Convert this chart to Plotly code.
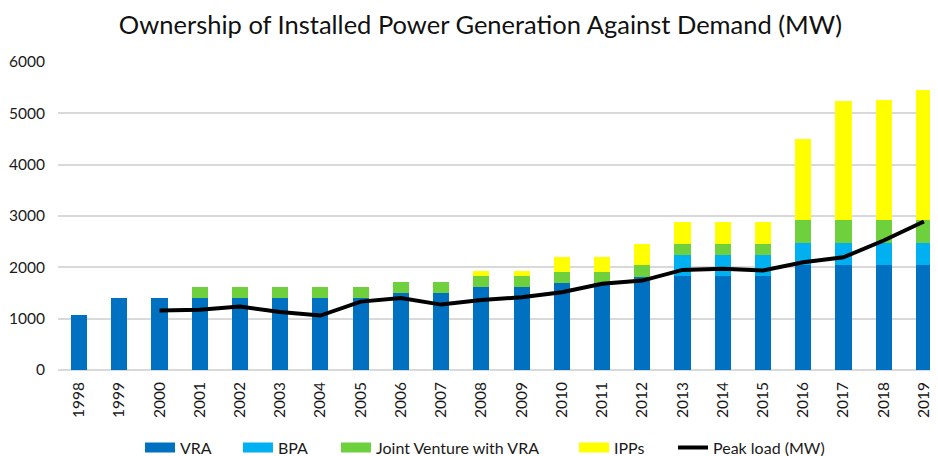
import plotly.graph_objects as go

years = [str(y) for y in range(1998, 2020)]
vra = [1072, 1400, 1400, 1400, 1400, 1400, 1400, 1400, 1500, 1500, 1610, 1610,
       1700, 1700, 1820, 1830, 1830, 1830, 2050, 2050, 2050, 2050]
bpa = [0, 0, 0, 0, 0, 0, 0, 0, 0, 0, 0, 0,
       0, 0, 0, 420, 420, 420, 420, 420, 420, 420]
jv = [0, 0, 0, 220, 220, 220, 220, 220, 220, 220, 220, 220,
      210, 210, 230, 210, 210, 210, 460, 460, 460, 460]
ipp = [0, 0, 0, 0, 0, 0, 0, 0, 0, 0, 90, 90,
       300, 300, 410, 415, 415, 415, 1565, 2305, 2325, 2520]
peak_years = [str(y) for y in range(2000, 2020)]
peak = [1158, 1175, 1235, 1130, 1060, 1332, 1404, 1274, 1365, 1416,
        1514, 1680, 1742, 1950, 1970, 1937, 2099, 2196, 2522, 2892]

series = [("VRA", vra, "#0070C0"), ("BPA", bpa, "#00B0F0"),
          ("Joint Venture with VRA", jv, "#6FD03E"), ("IPPs", ipp, "#FFFF00")]
legend_x = [0.0932, 0.2045, 0.3159, 0.5864, 0.6989]

font = "Lato, Liberation Sans, sans-serif"
fig = go.Figure()
for name, vals, col in series:
    fig.add_trace(go.Bar(x=years, y=vals, name=name, showlegend=False,
                         marker=dict(color=col, line=dict(width=0))))
fig.add_trace(go.Scatter(x=peak_years, y=peak, name="Peak load (MW)", mode="lines",
                         showlegend=False, line=dict(color="black", width=4)))
# legend entries (wide rectangular swatches like the original), one legend each
legend_ids = ["legend", "legend2", "legend3", "legend4", "legend5"]
for i, (name, vals, col) in enumerate(series):
    fig.add_trace(go.Scatter(x=[None], y=[None], name=name, mode="lines",
                             legend=legend_ids[i], line=dict(color=col, width=10)))
fig.add_trace(go.Scatter(x=[None], y=[None], name="Peak load (MW)", mode="lines",
                         legend=legend_ids[4], line=dict(color="black", width=4)))

legend_common = dict(orientation="h", xanchor="left", y=-0.252, yanchor="middle",
                     font=dict(size=16), itemwidth=30, bgcolor="rgba(0,0,0,0)")
fig.update_layout(
    barmode="stack", bargap=0.6,
    width=930, height=448,
    margin=dict(l=50, r=0, t=54, b=86, autoexpand=False),
    paper_bgcolor="white", plot_bgcolor="white",
    font=dict(family=font, size=14, color="#1a1a1a"),
    title=dict(text="Ownership of Installed Power Generation Against Demand (MW)",
               x=0.508, xanchor="center", y=0.962, yanchor="middle",
               font=dict(family=font, size=25.5, color="#111")),
    showlegend=True,
)
for lid, lx in zip(legend_ids, legend_x):
    fig.update_layout({lid: dict(legend_common, x=lx)})

fig.update_xaxes(type="category", range=[-0.522, 21.35], tickangle=-90, showgrid=False,
                 showline=False, ticks="", tickfont=dict(size=15.5), ticklabelstandoff=8)
fig.update_yaxes(range=[0, 6000], dtick=1000, showgrid=True, gridcolor="#d9d9d9", gridwidth=1.5,
                 zeroline=True, zerolinecolor="#d9d9d9", zerolinewidth=1.5,
                 ticks="", tickfont=dict(size=15.5), ticklabelstandoff=12)
fig.write_html("out.html")
